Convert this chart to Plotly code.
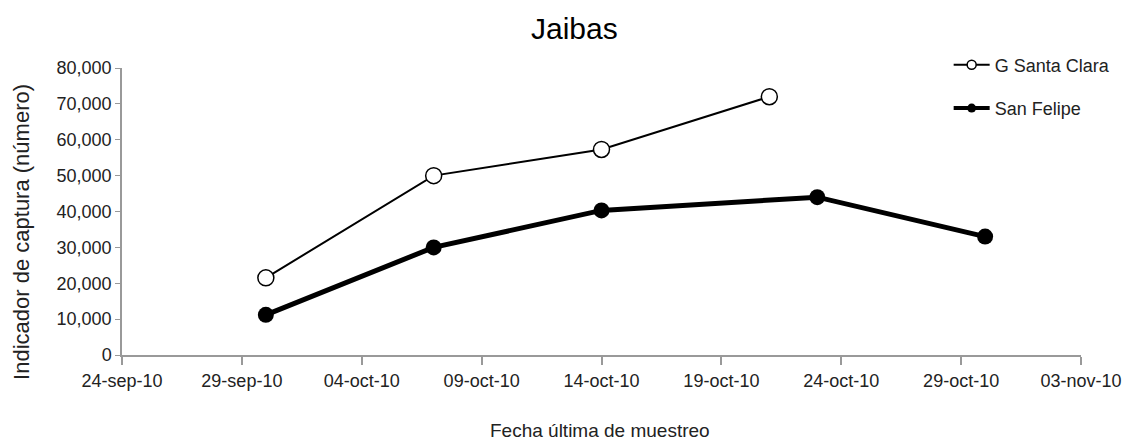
import plotly.graph_objects as go

# Sampling dates and catch index
fechas_santa_clara = ["2010-09-30", "2010-10-07", "2010-10-14", "2010-10-21"]
captura_santa_clara = [21500, 50000, 57300, 72000]

fechas_san_felipe = ["2010-09-30", "2010-10-07", "2010-10-14", "2010-10-23", "2010-10-30"]
captura_san_felipe = [11200, 30000, 40300, 44000, 33000]

tick_fechas = ["2010-09-24", "2010-09-29", "2010-10-04", "2010-10-09", "2010-10-14",
               "2010-10-19", "2010-10-24", "2010-10-29", "2010-11-03"]
tick_textos = ["24-sep-10", "29-sep-10", "04-oct-10", "09-oct-10", "14-oct-10",
               "19-oct-10", "24-oct-10", "29-oct-10", "03-nov-10"]

FONT = "Liberation Sans, Arial, sans-serif"
TXT = "#222222"

fig = go.Figure()

fig.add_trace(go.Scatter(
    x=fechas_santa_clara, y=captura_santa_clara, mode="lines+markers",
    name="G Santa Clara", showlegend=False,
    line=dict(color="black", width=2),
    marker=dict(symbol="circle", size=16, color="white",
                line=dict(color="black", width=1.5)),
))

fig.add_trace(go.Scatter(
    x=fechas_san_felipe, y=captura_san_felipe, mode="lines+markers",
    name="San Felipe", showlegend=False,
    line=dict(color="black", width=5),
    marker=dict(symbol="circle", size=16, color="black"),
))

# legend entries with the small markers of the original legend
fig.add_trace(go.Scatter(
    x=[None], y=[None], mode="lines+markers", name="G Santa Clara", legendgroup="a",
    line=dict(color="black", width=2),
    marker=dict(symbol="circle", size=9, color="white", line=dict(color="black", width=1.5)),
))
fig.add_trace(go.Scatter(
    x=[None], y=[None], mode="lines+markers", name="San Felipe", legendgroup="b",
    line=dict(color="black", width=4),
    marker=dict(symbol="circle", size=9, color="black"),
))

# the page body adds 8px around the figure, so size and margins compensate
fig.update_layout(
    width=1126, height=436,
    margin=dict(l=114, r=43, t=60, b=89),
    paper_bgcolor="white", plot_bgcolor="white",
    font=dict(family=FONT, size=18, color=TXT),
    title=dict(text="Jaibas", x=0.503, xanchor="center", y=0.954, yanchor="middle",
               font=dict(family=FONT, size=30, color="black")),
    legend=dict(x=0.862, y=1.075, xanchor="left", yanchor="top",
                bgcolor="rgba(0,0,0,0)", font=dict(size=18, color=TXT),
                tracegroupgap=17, itemwidth=36),
    annotations=[
        dict(text="Fecha última de muestreo", xref="paper", yref="paper",
             x=0.498, y=-0.262, xanchor="center", yanchor="middle",
             showarrow=False, font=dict(size=19, color=TXT)),
        dict(text="Indicador de captura (número)", xref="paper", yref="paper",
             x=-0.105, y=0.43, xanchor="center", yanchor="middle", textangle=-90,
             showarrow=False, font=dict(size=22, color=TXT)),
    ],
)

fig.update_xaxes(
    type="date",
    range=["2010-09-24", "2010-11-03"],
    tickvals=tick_fechas, ticktext=tick_textos,
    showgrid=False, zeroline=False,
    showline=True, linecolor="#999999", linewidth=2,
    ticks="outside", ticklen=8, tickcolor="#999999", tickwidth=1.5,
)

fig.update_yaxes(
    range=[0, 80000], dtick=10000, tickformat=",",
    showgrid=False, zeroline=False,
    showline=True, linecolor="#999999", linewidth=1.5,
    ticks="outside", ticklen=5, tickcolor="#999999",
)

fig.write_html("out.html")
